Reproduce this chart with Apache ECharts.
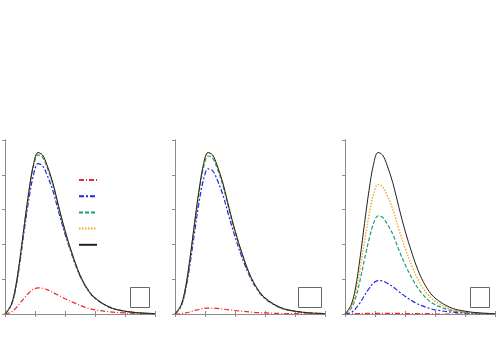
<!DOCTYPE html>
<html>
<head>
<meta charset="utf-8">
<script src="https://cdn.jsdelivr.net/npm/echarts@6/dist/echarts.min.js"></script>
<style>
  html, body { margin: 0; padding: 0; background: #fff; }
  #chart { width: 500px; height: 350px; }
</style>
</head>
<body>
<div id="chart"></div>
<script>
const xs = [0, 0.2, 0.35, 0.5, 0.65, 0.8, 0.95, 1.1, 1.25, 1.4, 1.6, 1.8, 2.0, 2.25, 2.5, 2.75, 3.0, 3.5, 4.0, 4.5, 5.0];

// black solid curve, same in all three panels
const total = [0, 0.25, 0.75, 1.6, 2.6, 3.55, 4.3, 4.64, 4.57, 4.28, 3.75, 3.05, 2.4, 1.7, 1.12, 0.72, 0.46, 0.19, 0.08, 0.03, 0.01];

// panel 1
const red1 = [0, 0.05, 0.16, 0.31, 0.47, 0.61, 0.71, 0.75, 0.74, 0.7, 0.62, 0.53, 0.44, 0.34, 0.25, 0.17, 0.12, 0.06, 0.03, 0.01, 0];
const blue1 = [0, 0.23, 0.7, 1.5, 2.45, 3.32, 4.0, 4.32, 4.26, 4.0, 3.53, 2.9, 2.3, 1.65, 1.09, 0.7, 0.45, 0.19, 0.08, 0.03, 0.01];
const teal1 = [0, 0.25, 0.74, 1.58, 2.57, 3.5, 4.24, 4.57, 4.5, 4.22, 3.7, 3.01, 2.37, 1.68, 1.11, 0.71, 0.46, 0.19, 0.08, 0.03, 0.01];
const orange1 = [0, 0.25, 0.75, 1.6, 2.6, 3.55, 4.29, 4.63, 4.56, 4.27, 3.74, 3.05, 2.4, 1.7, 1.12, 0.72, 0.46, 0.19, 0.08, 0.03, 0.01];

// panel 2
const red2 = [0, 0.01, 0.03, 0.06, 0.1, 0.13, 0.16, 0.17, 0.17, 0.16, 0.14, 0.12, 0.1, 0.08, 0.06, 0.04, 0.03, 0.015, 0.01, 0, 0];
const blue2 = [0, 0.22, 0.67, 1.43, 2.33, 3.2, 3.86, 4.17, 4.12, 3.87, 3.41, 2.8, 2.22, 1.59, 1.06, 0.69, 0.44, 0.18, 0.08, 0.03, 0.01];
const teal2 = [0, 0.24, 0.73, 1.56, 2.54, 3.47, 4.2, 4.54, 4.48, 4.2, 3.68, 3.0, 2.36, 1.68, 1.11, 0.71, 0.46, 0.19, 0.08, 0.03, 0.01];
const orange2 = [0, 0.25, 0.75, 1.6, 2.6, 3.55, 4.29, 4.63, 4.56, 4.27, 3.74, 3.05, 2.4, 1.7, 1.12, 0.72, 0.46, 0.19, 0.08, 0.03, 0.01];

// panel 3
const red3 = [0, 0, 0.01, 0.01, 0.02, 0.02, 0.02, 0.02, 0.02, 0.02, 0.02, 0.02, 0.01, 0.01, 0.01, 0.01, 0, 0, 0, 0, 0];
const blue3 = [0, 0.04, 0.15, 0.32, 0.53, 0.73, 0.89, 0.96, 0.95, 0.89, 0.78, 0.64, 0.51, 0.37, 0.26, 0.18, 0.12, 0.06, 0.03, 0.01, 0];
const teal3 = [0, 0.15, 0.45, 0.96, 1.57, 2.14, 2.6, 2.82, 2.78, 2.6, 2.28, 1.83, 1.43, 1.0, 0.66, 0.42, 0.27, 0.11, 0.05, 0.02, 0.01];
const orange3 = [0, 0.2, 0.6, 1.28, 2.08, 2.84, 3.44, 3.72, 3.66, 3.42, 3.0, 2.42, 1.9, 1.34, 0.88, 0.57, 0.37, 0.15, 0.06, 0.02, 0.01];

const names = ['a', 'b', 'c', 'd', 'e'];
const panels = [
  [red1, blue1, teal1, orange1, total],
  [red2, blue2, teal2, orange2, total],
  [red3, blue3, teal3, orange3, total],
];

const styles = [
  { color: '#ee2a2a', width: 1.2, type: [5, 2, 1, 2] },
  { color: '#2323ee', width: 1.2, type: [5, 2, 2, 2] },
  { color: '#1b9e77', width: 1.2, type: [4, 2] },
  { color: '#f5a623', width: 1.4, type: [1.5, 1.5] },
  { color: '#222222', width: 1, type: 'solid' },
];

const lefts = [5, 175, 345];
const axisColor = '#8c8c8c';

const grid = [], xAxis = [], yAxis = [], series = [], graphic = [];

lefts.forEach((left, p) => {
  grid.push({ left: left, top: 140, width: 150, height: 174 });
  const base = {
    gridIndex: p, type: 'value', min: 0, max: 5, interval: 1,
    axisLine: { show: true, lineStyle: { color: axisColor, width: 1 } },
    axisTick: { show: true, inside: false, length: 3, lineStyle: { color: axisColor } },
    axisLabel: { show: false },
    splitLine: { show: false },
  };
  xAxis.push(Object.assign({}, base, { position: 'bottom' }));
  xAxis.push(Object.assign({}, base, { position: 'top' }));
  yAxis.push(Object.assign({}, base, { position: 'left' }));
  yAxis.push(Object.assign({}, base, { position: 'right', axisTick: { show: false } }));

  panels[p].forEach((ys, i) => {
    series.push({
      name: names[i],
      type: 'line',
      xAxisIndex: 2 * p,
      yAxisIndex: 2 * p,
      data: xs.map((x, k) => [x, ys[k]]),
      smooth: 0.35,
      showSymbol: false,
      symbol: 'none',
      silent: true,
      z: 2 + i,
      color: styles[i].color,
      lineStyle: styles[i],
    });
  });
});

// small empty boxes in the lower right corner of each panel
const boxes = [[130, 287, 19, 20], [298, 287, 23, 20], [470, 287, 19, 20]];
boxes.forEach(b => {
  graphic.push({
    type: 'rect',
    shape: { x: b[0] + 0.5, y: b[1] + 0.5, width: b[2], height: b[3] },
    style: { fill: '#fff', stroke: '#666', lineWidth: 1 },
    z: 10,
  });
});

const chart = echarts.init(document.getElementById('chart'));
chart.setOption({
  animation: false,
  backgroundColor: '#fff',
  grid: grid,
  xAxis: xAxis,
  yAxis: yAxis,
  legend: {
    data: names,
    orient: 'vertical',
    left: 78,
    top: 176,
    padding: 0,
    itemWidth: 18,
    itemHeight: 8,
    itemGap: 9,
    itemStyle: { opacity: 0 },
    formatter: () => '',
    selectedMode: false,
  },
  graphic: graphic,
  series: series,
});
</script>
</body>
</html>
